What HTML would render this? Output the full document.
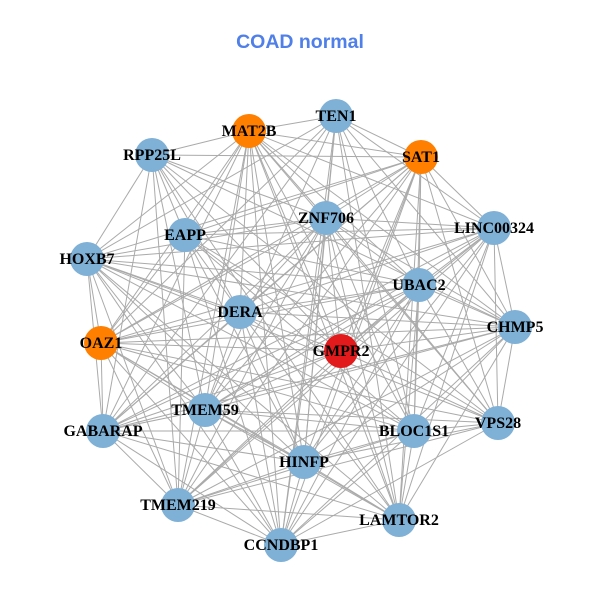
<!DOCTYPE html>
<html><head><meta charset="utf-8"><style>
html,body{margin:0;padding:0;background:#fff;}
svg{display:block;}
.t{font-family:"Liberation Sans",sans-serif;font-weight:bold;font-size:19.5px;fill:#4f7fe8;}
.l{font-family:"Liberation Serif",serif;font-weight:bold;font-size:16px;fill:#000;}
</style></head><body>
<svg id="s" width="600" height="600" viewBox="0 0 600 600">
<rect width="600" height="600" fill="#fff"/>
<text class="t" x="300" y="48" text-anchor="middle">COAD normal</text>
<g id="e" stroke="#aaaaaa" stroke-width="1"></g>
<g id="n"></g>
</svg>
<script>
var N=[["TEN1",336,116,"#7fb0d6"],["MAT2B",249,131,"#ff7f00"],["SAT1",421,157,"#ff7f00"],["RPP25L",152,155,"#7fb0d6"],
["ZNF706",326,218,"#7fb0d6"],["LINC00324",494,228,"#7fb0d6"],["EAPP",185,235,"#7fb0d6"],["HOXB7",87,259,"#7fb0d6"],
["UBAC2",419,285,"#7fb0d6"],["DERA",240,312,"#7fb0d6"],["CHMP5",515,327,"#7fb0d6"],["OAZ1",101,343,"#ff7f00"],
["GMPR2",341,351,"#e31a1c"],["TMEM59",205,410,"#7fb0d6"],["BLOC1S1",414,431,"#7fb0d6"],["VPS28",498,423,"#7fb0d6"],
["GABARAP",103,431,"#7fb0d6"],["HINFP",304,462,"#7fb0d6"],["TMEM219",178,505,"#7fb0d6"],["LAMTOR2",399,520,"#7fb0d6"],
["CCNDBP1",281,545,"#7fb0d6"]];
var ns="http://www.w3.org/2000/svg",E=document.getElementById("e"),G=document.getElementById("n");
for(var i=0;i<N.length;i++)for(var j=i+1;j<N.length;j++){
 if((i*7+j*3)%9==0)continue;
 var l=document.createElementNS(ns,"line");
 l.setAttribute("x1",N[i][1]);l.setAttribute("y1",N[i][2]);l.setAttribute("x2",N[j][1]);l.setAttribute("y2",N[j][2]);E.appendChild(l);}
N.forEach(function(d){var c=document.createElementNS(ns,"circle");c.setAttribute("cx",d[1]);c.setAttribute("cy",d[2]);c.setAttribute("r",17);c.setAttribute("fill",d[3]);G.appendChild(c);});
N.forEach(function(d){var t=document.createElementNS(ns,"text");t.setAttribute("class","l");t.setAttribute("x",d[1]);t.setAttribute("y",d[2]+5);t.setAttribute("text-anchor","middle");t.textContent=d[0];G.appendChild(t);});
</script>
</body></html>
